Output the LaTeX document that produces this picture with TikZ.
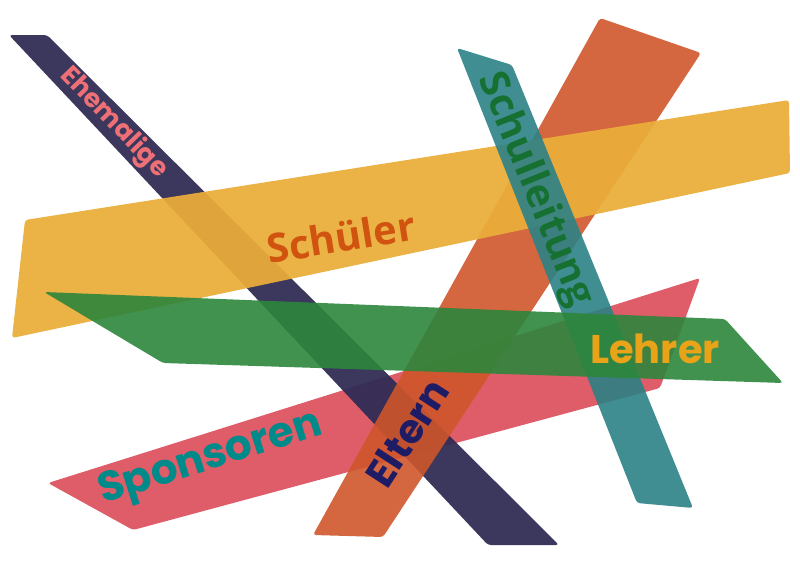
\documentclass[tikz,border=0pt]{standalone}
\usepackage{fontspec}
\newfontfamily\popfont{Poppins}
\newfontfamily\osfont{Open Sans}
\definecolor{cnavy}{RGB}{48,44,84}
\definecolor{cred}{RGB}{220,74,89}
\definecolor{corange}{RGB}{207,86,43}
\definecolor{cyellow}{RGB}{234,173,58}
\definecolor{cteal}{RGB}{43,130,134}
\definecolor{cgreen}{RGB}{45,134,60}
\definecolor{tpink}{RGB}{238,112,118}
\definecolor{tschueler}{RGB}{208,84,16}
\definecolor{tleitung}{RGB}{22,112,50}
\definecolor{tlehrer}{RGB}{232,163,24}
\definecolor{tsponsor}{RGB}{0,138,138}
\definecolor{teltern}{RGB}{30,28,100}
\tikzset{
  band/.style={rounded corners=3pt, fill opacity=0.9, draw=none},
  geolabel/.style={font=\popfont\bfseries, inner sep=0pt},
  sanslabel/.style={font=\osfont\bfseries, inner sep=0pt}
}
\begin{document}
\begin{tikzpicture}[x=1pt,y=-1pt]
\useasboundingbox (0,0) rectangle (800,565);
% bands
\fill[band, fill=cred]    (48,483) -- (700,278) -- (660,388) -- (133,530) -- cycle;
\fill[band, fill=cnavy, fill opacity=0.95] (9,35) -- (47,35) -- (559,545) -- (488,545) -- cycle;
\fill[band, fill=corange] (600,18) -- (701,53) -- (383,537) -- (313,535) -- cycle;
\fill[band, fill=cyellow, fill opacity=0.94] (25,220) -- (789,100) -- (790,173) -- (12,338) -- cycle;
\fill[band, fill=cteal]   (457,48) -- (512,65) -- (693,508) -- (637,503) -- cycle;
\fill[band, fill=cgreen]  (44,292) -- (725,319) -- (783,383) -- (163,363) -- cycle;
% labels
\node[geolabel, text=tpink, font=\popfont\bfseries\fontsize{26}{26}\selectfont, rotate=-46] (ehem) at (114,123) {Ehemalige};
\node[sanslabel, text=tschueler, font=\osfont\bfseries\fontsize{40}{40}\selectfont, rotate=9] (schueler) at (341,237) {Schüler};
\node[sanslabel, text=tleitung, font=\osfont\bfseries\fontsize{40}{40}\selectfont, rotate=-68] (leitung) at (535,190) {Schulleitung};
\node[geolabel, text=tlehrer, font=\popfont\bfseries\fontsize{40}{40}\selectfont] (lehrer) at (655,349) {Lehrer};
\node[geolabel, text=tsponsor, font=\popfont\bfseries\fontsize{42}{42}\selectfont, rotate=17.5] (sponsoren) at (211,460) {Sponsoren};
\node[geolabel, text=teltern, font=\popfont\bfseries\fontsize{40}{40}\selectfont, rotate=57] (eltern) at (407,433) {Eltern};
\end{tikzpicture}
\end{document}
